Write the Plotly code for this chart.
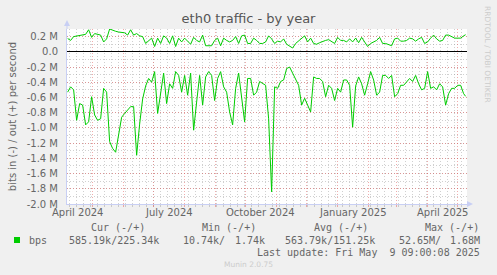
import plotly.graph_objects as go
import pandas as pd

# sampling grid (every 3 days) + last update day
dates = list(pd.date_range("2024-04-06", periods=133, freq="3D").strftime("%Y-%m-%d")) + ["2025-05-09"]

# outgoing traffic (Mbit/s, positive)
out_vals = [
    0.175, 0.15, 0.20, 0.21, 0.22, 0.22, 0.23, 0.29, 0.19, 0.24, 0.23, 0.22, 0.13, 0.17, 0.30, 0.28,
    0.27, 0.26, 0.25, 0.25, 0.22, 0.29, 0.22, 0.24, 0.21, 0.20,
    0.11, 0.15, 0.18, 0.07, 0.18, 0.11, 0.21, 0.18, 0.11, 0.21, 0.07, 0.18, 0.13, 0.18, 0.14, 0.10,
    0.19, 0.15, 0.13, 0.22, 0.08, 0.08, 0.08, 0.15, 0.18, 0.08, 0.18,
    0.15, 0.13, 0.15, 0.20, 0.11, 0.21, 0.22, 0.11, 0.11, 0.18, 0.15, 0.11, 0.11, 0.13, 0.21, 0.17,
    0.11, 0.14, 0.13, 0.17, 0.10, 0.08, 0.05, 0.11, 0.14, 0.18,
    0.21, 0.13, 0.18, 0.11, 0.10, 0.12, 0.14, 0.15, 0.16, 0.13, 0.11, 0.19, 0.15, 0.15, 0.13, 0.17,
    0.13, 0.18, 0.12, 0.19, 0.13, 0.07, 0.11, 0.13, 0.15, 0.19, 0.11,
    0.11, 0.10, 0.08, 0.17, 0.18, 0.14, 0.14, 0.15, 0.18, 0.17, 0.14, 0.17, 0.19, 0.11, 0.13, 0.18,
    0.22, 0.17, 0.14, 0.15, 0.22, 0.22, 0.20, 0.18, 0.18, 0.18, 0.21, 0.225,
]

# incoming traffic (Mbit/s, drawn negative)
in_vals = [
    -0.53, -0.46, -0.50, -0.90, -0.68, -0.70, -0.96, -0.92, -0.59, -0.83, -0.90, -0.88, -0.48, -0.53,
    -1.18, -1.27, -1.32, -1.10, -0.86, -0.81, -0.77, -0.72, -0.72, -1.36, -0.95, -0.62,
    -0.45, -0.35, -0.40, -0.26, -0.81, -0.53, -0.28, -0.68, -0.42, -0.48, -0.26, -0.31, -0.53, -0.31,
    -0.57, -0.28, -1.03, -0.66, -0.31, -0.70, -0.33, -0.26, -0.31, -0.64, -0.35, -0.26, -0.46,
    -0.53, -0.79, -0.96, -0.48, -0.28, -0.61, -0.92, -0.35, -0.35, -0.57, -0.53, -0.39, -0.42, -0.44,
    -0.88, -1.84, -0.46, -0.48, -0.39, -0.37, -0.22, -0.20, -0.28, -0.37, -0.44, -0.70,
    -0.61, -0.70, -0.79, -0.33, -0.35, -0.35, -0.39, -0.59, -0.44, -0.48, -0.64, -0.48, -0.53, -0.37,
    -0.37, -0.44, -0.99, -0.45, -0.33, -0.42, -0.57, -0.42, -0.26, -0.37, -0.57, -0.53, -0.31,
    -0.31, -0.35, -0.31, -0.59, -0.55, -0.44, -0.44, -0.39, -0.35, -0.39, -0.31, -0.42, -0.50, -0.48,
    -0.26, -0.48, -0.46, -0.50, -0.42, -0.46, -0.70, -0.55, -0.48, -0.48, -0.44, -0.44, -0.55, -0.585,
]

y_tickvals = [0.2, 0.0, -0.2, -0.4, -0.6, -0.8, -1.0, -1.2, -1.4, -1.6, -1.8, -2.0]
y_ticktext = ["0.2 M", "0.0", "-0.2 M", "-0.4 M", "-0.6 M", "-0.8 M", "-1.0 M", "-1.2 M",
              "-1.4 M", "-1.6 M", "-1.8 M", "-2.0 M"]
month_starts = list(pd.date_range("2024-05-01", "2025-05-01", freq="MS").strftime("%Y-%m-%d"))
x_label_dates = ["2024-04-16", "2024-07-16", "2024-10-16", "2025-01-16", "2025-04-16"]
x_label_text = ["April 2024", "July 2024", "October 2024", "January 2025", "April 2025"]

legend_headers = ["Cur (-/+)", "Min (-/+)", "Avg (-/+)", "Max (-/+)"]
legend_values = ["585.19k/225.34k", "10.74k/", "1.74k", "563.79k/151.25k", "52.65M/", "1.68M"]

GREEN = "#00CC00"
FONT = "DejaVu Sans"
MONO = "DejaVu Sans Mono"
TXT = "#666666"
AXIS = "#C8CFF4"
MAJ = "rgba(225,90,90,0.5)"
MIN = "rgba(150,150,150,0.45)"
DASH = "1px,2px"

# plot-area pixel geometry
L, R, T, B = 67, 467, 29, 204
def px(x):
    return (x - L) / (R - L)
def py(y):
    return (B - y) / (B - T)

fig = go.Figure()
fig.add_trace(go.Scatter(x=dates, y=out_vals, mode="lines", line=dict(color=GREEN, width=1),
                         showlegend=False, hoverinfo="skip"))
fig.add_trace(go.Scatter(x=dates, y=in_vals, mode="lines", line=dict(color=GREEN, width=1),
                         showlegend=False, hoverinfo="skip"))

fig.update_layout(
    width=497, height=275,
    margin=dict(l=L, r=497 - R, t=T, b=275 - B),
    paper_bgcolor="#F0F0F0", plot_bgcolor="#FFFFFF",
    font=dict(family=FONT, size=10, color=TXT),
    title=dict(text="eth0 traffic - by year", x=0.5, xref="container", xanchor="center",
               y=1 - 18 / 275, yref="container", yanchor="middle",
               font=dict(family=FONT, size=13, color="#555555")),
    xaxis=dict(
        type="date", range=["2024-04-05 09:00", "2025-05-10 09:00"],
        tickmode="array", tickvals=month_starts, ticktext=[""] * len(month_starts),
        showgrid=True, gridcolor=MAJ, griddash=DASH, gridwidth=1,
        ticks="outside", ticklen=2, tickcolor=MAJ,
        minor=dict(dtick=7 * 86400000, tick0="2024-04-01", showgrid=True,
                   gridcolor=MIN, griddash=DASH, gridwidth=1,
                   ticks="outside", ticklen=2, tickcolor=MIN),
        showline=True, linecolor=AXIS, linewidth=1, zeroline=False, fixedrange=True,
    ),
    yaxis=dict(
        range=[-2.0, 0.3], tickmode="array", tickvals=y_tickvals, ticktext=y_ticktext,
        showgrid=True, gridcolor=MAJ, griddash=DASH, gridwidth=1,
        minor=dict(dtick=0.1, tick0=0, showgrid=True,
                   gridcolor=MIN, griddash=DASH, gridwidth=1),
        zeroline=True, zerolinecolor="#000000", zerolinewidth=1,
        showline=True, linecolor=AXIS, linewidth=1, ticks="",
        ticklabelstandoff=6, tickfont=dict(family=FONT, size=10, color=TXT),
        title=dict(text="bits in (-) / out (+) per second", standoff=8,
                   font=dict(family=FONT, size=10, color=TXT)),
        fixedrange=True,
    ),
)

annotations = []
for d, t in zip(x_label_dates, x_label_text):
    annotations.append(dict(x=d, y=py(212), xref="x", yref="paper", text=t, showarrow=False,
                            xanchor="center", yanchor="middle",
                            font=dict(family=FONT, size=10, color=TXT)))

header_x = [89, 200, 312, 423]
for hx, t in zip(header_x, legend_headers):
    annotations.append(dict(x=px(hx), y=py(227), xref="paper", yref="paper", text=t,
                            showarrow=False, xanchor="left", yanchor="middle",
                            font=dict(family=MONO, size=10, color=TXT)))
annotations.append(dict(x=px(27), y=py(240), xref="paper", yref="paper", text="bps",
                        showarrow=False, xanchor="left", yanchor="middle",
                        font=dict(family=MONO, size=10, color=TXT)))
val_pos = [(67, "left"), (181, "left"), (267, "right"), (283, "left"), (397, "left"), (482, "right")]
for (vx, anc), t in zip(val_pos, legend_values):
    annotations.append(dict(x=px(vx), y=py(240), xref="paper", yref="paper", text=t,
                            showarrow=False, xanchor=anc, yanchor="middle",
                            font=dict(family=MONO, size=10, color=TXT)))
annotations.append(dict(x=px(482), y=py(252), xref="paper", yref="paper",
                        text="Last update: Fri May \u00a09 09:00:08 2025",
                        showarrow=False, xanchor="right", yanchor="middle",
                        font=dict(family=MONO, size=10, color=TXT)))
annotations.append(dict(x=px(248), y=py(264), xref="paper", yref="paper", text="Munin 2.0.75",
                        showarrow=False, xanchor="center", yanchor="middle",
                        font=dict(family=FONT, size=7.5, color="#CCCCCC")))
annotations.append(dict(x=px(488), y=py(54), xref="paper", yref="paper",
                        text="RRDTOOL / TOBI OETIKER", textangle=90,
                        showarrow=False, xanchor="center", yanchor="middle",
                        font=dict(family=FONT, size=7.5, color="#CCCCCC")))
fig.update_layout(annotations=annotations)

shapes = [
    # legend colour box
    dict(type="rect", xref="paper", yref="paper", x0=px(14), x1=px(20), y0=py(243), y1=py(237),
         fillcolor=GREEN, line=dict(width=0)),
    # y-axis extension + arrow
    dict(type="line", xref="paper", yref="paper", x0=px(67), x1=px(67), y0=py(29), y1=py(25),
         line=dict(color=AXIS, width=1)),
    dict(type="path", xref="paper", yref="paper",
         path=f"M {px(64)},{py(26)} L {px(70)},{py(26)} L {px(67)},{py(20)} Z",
         fillcolor=AXIS, line=dict(width=0)),
    # x-axis extension + arrow
    dict(type="path", xref="paper", yref="paper",
         path=f"M {px(467)},{py(201)} L {px(467)},{py(207)} L {px(473)},{py(204)} Z",
         fillcolor=AXIS, line=dict(width=0)),
]
fig.update_layout(shapes=shapes)

fig.write_html("out.html")
